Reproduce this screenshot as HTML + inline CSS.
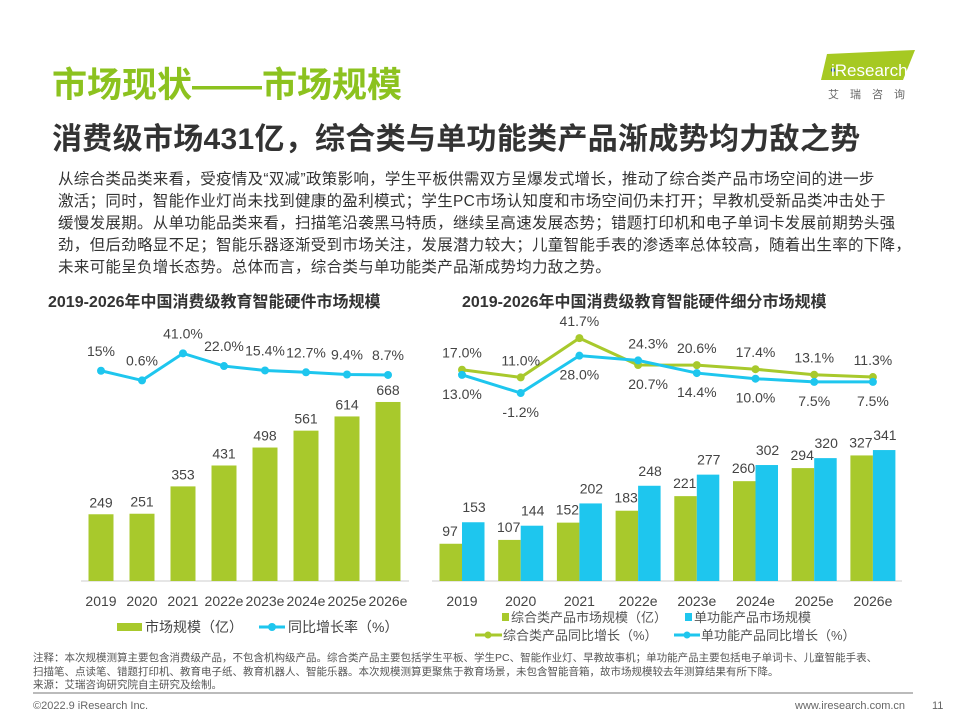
<!DOCTYPE html>
<html><head><meta charset="utf-8">
<style>
body{margin:0;width:960px;height:720px;background:#fff;overflow:hidden;font-family:"Liberation Sans","Noto Sans CJK SC",sans-serif;position:relative}
.a{position:absolute;white-space:nowrap}
</style></head><body>
<div class="a" style="left:52px;top:57px;font-size:35px;color:#8cc21f;font-weight:bold">市场现状——市场规模</div>
<div class="a" style="left:52px;top:114px;font-size:30px;color:#333;font-weight:bold;letter-spacing:0.3px">消费级市场431亿，综合类与单功能类产品渐成势均力敌之势</div>
<div class="a" style="left:795px;top:50px;width:125px;height:50px">
<svg width="125" height="50"><polygon points="32,4 120,0 108,30 26,30" fill="#a6c922"/><circle cx="38" cy="20" r="2" fill="#2255aa"/><text x="36" y="26" font-size="17" fill="#fff" font-family="Liberation Sans">iResearch</text><text x="33" y="48" font-size="11" fill="#666" letter-spacing="11">艾瑞咨询</text></svg></div>
<div class="a" style="left:58px;top:169px;font-size:15.5px;line-height:22px;color:#333;letter-spacing:0.3px">从综合类品类来看，受疫情及“双减”政策影响，学生平板供需双方呈爆发式增长，推动了综合类产品市场空间的进一步<br>激活；同时，智能作业灯尚未找到健康的盈利模式；学生PC市场认知度和市场空间仍未打开；早教机受新品类冲击处于<br>缓慢发展期。从单功能品类来看，扫描笔沿袭黑马特质，继续呈高速发展态势；错题打印机和电子单词卡发展前期势头强<br>劲，但后劲略显不足；智能乐器逐渐受到市场关注，发展潜力较大；儿童智能手表的渗透率总体较高，随着出生率的下降，<br>未来可能呈负增长态势。总体而言，综合类与单功能类产品渐成势均力敌之势。</div>
<div class="a" style="left:48px;top:288px;font-size:16px;font-weight:bold;color:#333">2019-2026年中国消费级教育智能硬件市场规模</div>
<div class="a" style="left:462px;top:288px;font-size:16px;font-weight:bold;color:#333">2019-2026年中国消费级教育智能硬件细分市场规模</div>
<svg id="c" class="a" style="left:0;top:0" width="960" height="720" font-family="Liberation Sans, Noto Sans CJK SC, sans-serif"></svg>
<div class="a" style="left:33px;top:652px;font-size:10.5px;line-height:13.5px;color:#555">注释：本次规模测算主要包含消费级产品，不包含机构级产品。综合类产品主要包括学生平板、学生PC、智能作业灯、早教故事机；单功能产品主要包括电子单词卡、儿童智能手表、<br>扫描笔、点读笔、错题打印机、教育电子纸、教育机器人、智能乐器。本次规模测算更聚焦于教育场景，未包含智能音箱，故市场规模较去年测算结果有所下降。<br>来源：艾瑞咨询研究院自主研究及绘制。</div>
<div class="a" style="left:33px;top:692px;width:880px;height:2px;background:#bbb"></div>
<div class="a" style="left:33px;top:700px;font-size:11px;color:#666">©2022.9 iResearch Inc.</div>
<div class="a" style="left:795px;top:700px;font-size:11px;color:#666">www.iresearch.com.cn</div>
<div class="a" style="left:932px;top:700px;font-size:11px;color:#666">11</div>
<script>
const years=["2019","2020","2021","2022e","2023e","2024e","2025e","2026e"];
const totalSize=[249,251,353,431,498,561,614,668];
const totalGrowth=[15,0.6,41.0,22.0,15.4,12.7,9.4,8.7];
const totalGrowthLabels=["15%","0.6%","41.0%","22.0%","15.4%","12.7%","9.4%","8.7%"];
const compSize=[97,107,152,183,221,260,294,327];
const singleSize=[153,144,202,248,277,302,320,341];
const compGrowth=[17.0,11.0,41.7,20.7,20.6,17.4,13.1,11.3];
const singleGrowth=[13.0,-1.2,28.0,24.3,14.4,10.0,7.5,7.5];
const G="#a8c92c",B="#1ec6ee";
const svg=document.getElementById('c');
function el(t,a,txt){const e=document.createElementNS("http://www.w3.org/2000/svg",t);for(const k in a)e.setAttribute(k,a[k]);if(txt!==undefined)e.textContent=txt;svg.appendChild(e);return e;}
const base=581;
const lx=i=>101+i*41, ly=v=>base-v*0.268, lg=v=>380.4-0.67*(v-0.6);
let e=el('line',{x1:81,y1:base,x2:409,y2:base,stroke:'#ccc'});

years.forEach((y,i)=>{
 e=el('rect',{x:lx(i)-12.5,y:ly(totalSize[i]),width:25,height:base-ly(totalSize[i]),fill:G});
 
 e=el('text',{x:lx(i),y:ly(totalSize[i])-7,'text-anchor':'middle','font-size':14,fill:'#444'},totalSize[i]);
 
 e=el('text',{x:lx(i),y:606,'text-anchor':'middle','font-size':14,fill:'#444'},y);
 
});
e=el('polyline',{points:totalGrowth.map((v,i)=>lx(i)+','+lg(v)).join(' '),fill:'none',stroke:B,'stroke-width':3});

totalGrowth.forEach((v,i)=>{
 e=el('circle',{cx:lx(i),cy:lg(v),r:4,fill:B});
 
 e=el('text',{x:lx(i),y:lg(v)-15,'text-anchor':'middle','font-size':14,fill:'#444'},totalGrowthLabels[i]);
 
});
e=el('rect',{x:117,y:623,width:25,height:8,fill:G});
e=el('text',{x:145,y:632,'font-size':14,fill:'#444'},'市场规模（亿）');
e=el('line',{x1:259,y1:627,x2:285,y2:627,stroke:B,'stroke-width':3});
e=el('circle',{cx:272,cy:627,r:4,fill:B});
e=el('text',{x:288,y:632,'font-size':14,fill:'#444'},'同比增长率（%）');
const rx=i=>462+i*58.7, ry=v=>base-v*0.384, rg=v=>391.5-1.28*v;
e=el('line',{x1:432,y1:base,x2:902,y2:base,stroke:'#ccc'});
years.forEach((y,i)=>{
 e=el('rect',{x:rx(i)-22.5,y:ry(compSize[i]),width:22.5,height:base-ry(compSize[i]),fill:G});
 
 e=el('rect',{x:rx(i),y:ry(singleSize[i]),width:22.5,height:base-ry(singleSize[i]),fill:B});
 
 e=el('text',{x:rx(i)-12,y:ry(compSize[i])-8,'text-anchor':'middle','font-size':14,fill:'#444'},compSize[i]);
 
 e=el('text',{x:rx(i)+12,y:ry(singleSize[i])-10,'text-anchor':'middle','font-size':14,fill:'#444'},singleSize[i]);
 
 e=el('text',{x:rx(i),y:606,'text-anchor':'middle','font-size':14,fill:'#444'},y);
 
});
[[compGrowth,G,singleGrowth,'comp'],[singleGrowth,B,compGrowth,'single']].forEach(([s,c,o,n])=>{
 e=el('polyline',{points:s.map((v,i)=>rx(i)+','+rg(v)).join(' '),fill:'none',stroke:c,'stroke-width':3});
 
 s.forEach((v,i)=>{
  e=el('circle',{cx:rx(i),cy:rg(v),r:4,fill:c});
  
  const above=v>=o[i];
  e=el('text',{x:rx(i)+(i==3?10:0),y:above?rg(v)-12:rg(v)+24,'text-anchor':'middle','font-size':14,fill:'#444'},v.toFixed(1)+'%');
  
 });
});
e=el('rect',{x:502,y:613,width:7,height:8,fill:G});
e=el('text',{x:511,y:622,'font-size':13,fill:'#555'},'综合类产品市场规模（亿）');
e=el('rect',{x:685,y:613,width:7,height:8,fill:B});
e=el('text',{x:694,y:622,'font-size':13,fill:'#555'},'单功能产品市场规模');
e=el('line',{x1:475,y1:635,x2:502,y2:635,stroke:G,'stroke-width':3});
e=el('circle',{cx:488,cy:635,r:3.5,fill:G});
e=el('text',{x:503,y:640,'font-size':13,fill:'#555'},'综合类产品同比增长（%）');
e=el('line',{x1:674,y1:635,x2:700,y2:635,stroke:B,'stroke-width':3});
e=el('circle',{cx:687,cy:635,r:3.5,fill:B});
e=el('text',{x:701,y:640,'font-size':13,fill:'#555'},'单功能产品同比增长（%）');
</script>
</body></html>
